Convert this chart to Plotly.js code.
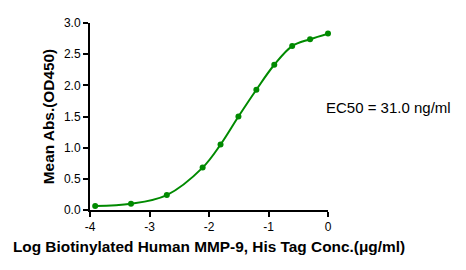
<!DOCTYPE html>
<html>
<head>
<meta charset="utf-8">
<script src="https://cdn.plot.ly/plotly-3.0.1.min.js"></script>
<style>html,body{margin:0;padding:0;background:#fff;}#chart{width:466px;height:270px;}</style>
</head>
<body>
<div id="chart"></div>
<script>
const logConc = [-3.913, -3.311, -2.709, -2.107, -1.806, -1.505, -1.204, -0.903, -0.602, -0.301, 0];
const meanAbs = [0.065, 0.10, 0.24, 0.68, 1.05, 1.50, 1.93, 2.33, 2.63, 2.74, 2.83];
const xTicks = [-4, -3, -2, -1, 0];
const yTicks = [0, 0.5, 1.0, 1.5, 2.0, 2.5, 3.0];
const yTickLabels = ['0.0', '0.5', '1.0', '1.5', '2.0', '2.5', '3.0'];
const ec50Label = 'EC50 = 31.0 ng/ml';

const green = '#008a00';
const fontFam = 'Liberation Sans, Arial, sans-serif';

const traces = [
  {x: logConc, y: meanAbs, mode: 'lines', line: {color: green, width: 2, shape: 'spline', smoothing: 1}, hoverinfo: 'skip', cliponaxis: false},
  {x: logConc, y: meanAbs, mode: 'markers', marker: {color: green, size: 6}, cliponaxis: false}
];

const layout = {
  width: 466, height: 270,
  margin: {l: 90, r: 138, t: 23, b: 60},
  paper_bgcolor: '#fff', plot_bgcolor: '#fff',
  showlegend: false,
  font: {family: fontFam, color: '#000', size: 12},
  xaxis: {
    range: [-4, 0], tickvals: xTicks, ticktext: xTicks.map(String),
    showgrid: false, zeroline: false, showline: true, linecolor: '#000', linewidth: 2,
    ticks: 'outside', ticklen: 5, tickwidth: 2, tickcolor: '#000',
    tickfont: {size: 12, family: fontFam},
    title: {text: '<b>Log Biotinylated Human MMP-9, His Tag Conc.(μg/ml)</b>', font: {size: 15.4, family: fontFam}, standoff: 8}
  },
  yaxis: {
    range: [0, 3], tickvals: yTicks, ticktext: yTickLabels,
    showgrid: false, zeroline: false, showline: true, linecolor: '#000', linewidth: 2,
    ticks: 'outside', ticklen: 5, tickwidth: 2, tickcolor: '#000',
    tickfont: {size: 12, family: fontFam},
    title: {text: '<b>Mean Abs.(OD450)</b>', font: {size: 15.4, family: fontFam}, standoff: 6}
  },
  annotations: [{
    xref: 'paper', yref: 'paper', x: 1.0, y: 0.55, xanchor: 'left', yanchor: 'middle',
    xshift: -4, text: ec50Label, showarrow: false, font: {size: 15, family: fontFam, color: '#000'}
  }]
};

Plotly.newPlot('chart', traces, layout, {displayModeBar: false, staticPlot: true});
</script>
</body>
</html>
